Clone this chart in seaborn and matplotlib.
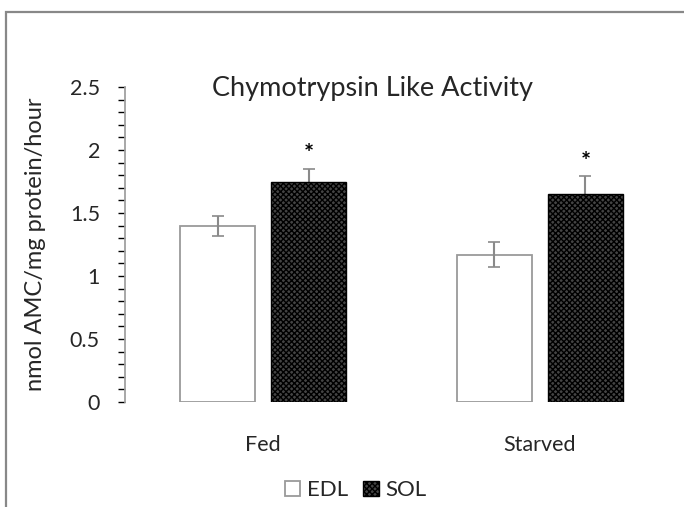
import pandas as pd
import numpy as np
import matplotlib
matplotlib.use("Agg")
import matplotlib.pyplot as plt
import seaborn as sns
from matplotlib.patches import Rectangle
from matplotlib.ticker import MultipleLocator

# values
conditions = ["Fed", "Starved"]
muscles = ["EDL", "SOL"]
edl_mean = [1.40, 1.17]
sol_mean = [1.75, 1.65]
edl_err = [0.08, 0.10]
sol_err = [0.10, 0.14]
sig_marks = ["", ""], ["*", "*"]  # EDL, SOL

data = pd.DataFrame({
    "condition": conditions * 2,
    "muscle": ["EDL"] * 2 + ["SOL"] * 2,
    "value": edl_mean + sol_mean,
})
errs = {"EDL": edl_err, "SOL": sol_err}
marks = dict(zip(muscles, sig_marks))

sns.set_style("white")
plt.rcParams["font.family"] = ["Lato", "DejaVu Sans"]

fig = plt.figure(figsize=(6.84, 5.07), dpi=100)
ax = fig.add_axes([0.1827, 0.2071, 0.8085, 0.6213])

sns.barplot(data=data, x="condition", y="value", hue="muscle", order=conditions,
            hue_order=muscles, palette={"EDL": "white", "SOL": "#444444"},
            width=0.66, gap=0.18, errorbar=None, legend=False, ax=ax, zorder=2)

bar_groups = list(ax.containers)
for name, cont in zip(muscles, bar_groups):
    for i, bar in enumerate(cont.patches):
        if name == "EDL":
            bar.set_edgecolor("#9a9a9a")
            bar.set_linewidth(1.3)
            bar.set_zorder(1)
        else:
            bar.set_edgecolor("black")
            bar.set_hatch("xxxxxx")
            bar.set_linewidth(1.0)
            bar.set_zorder(3)
        xc = bar.get_x() + bar.get_width() / 2
        top = bar.get_height()
        eb = ax.errorbar(xc, top, yerr=errs[name][i], ecolor="#8a8a8a", elinewidth=1.5,
                         capsize=4, capthick=1.2, fmt="none", zorder=2)
        for cap in eb[1]:
            cap.set_color("black")
        if marks[name][i]:
            ax.annotate(marks[name][i], (xc, top + errs[name][i]), xytext=(0, 2),
                        textcoords="offset points", ha="center", va="bottom",
                        fontsize=17, fontweight="bold", color="black")

ax.set_ylim(0, 2.5)
ax.set_xlim(-0.5, 1.5)
ax.yaxis.set_major_locator(MultipleLocator(0.5))
ax.yaxis.set_minor_locator(MultipleLocator(0.1))
ax.set_yticks(np.arange(0, 2.51, 0.5))
ax.set_yticklabels(["0", "0.5", "1", "1.5", "2", "2.5"])
ax.tick_params(axis="y", which="both", direction="out", length=5, width=1,
               color="black", left=True, labelsize=15.5, pad=13)
ax.tick_params(axis="x", length=0, labelsize=15.5, pad=24)
for side in ["top", "right", "bottom"]:
    ax.spines[side].set_visible(False)
ax.spines["left"].set_color("#a0a0a0")
ax.spines["left"].set_linewidth(1.3)
ax.set_xlabel("")
ax.set_ylabel("nmol AMC/mg protein/hour", fontsize=17)
ax.yaxis.set_label_coords(-0.143, 0.5)

fig.text(0.544, 0.826, "Chymotrypsin Like Activity", ha="center", va="center",
         fontsize=19.5)

handles = [c.patches[0] for c in bar_groups]
fig.legend(handles, muscles, loc="center", bbox_to_anchor=(0.52, 0.033), ncol=2,
           frameon=False, fontsize=16, handlelength=0.7, handleheight=0.7,
           handletextpad=0.3, columnspacing=0.7)

# outer chart-area frame
fig.add_artist(Rectangle((6 / 684, -0.05), 1.2, 1 - 12 / 507 + 0.05,
                         transform=fig.transFigure, fill=False,
                         edgecolor="#888888", linewidth=1.6))

fig.savefig("out.png", dpi=100)
